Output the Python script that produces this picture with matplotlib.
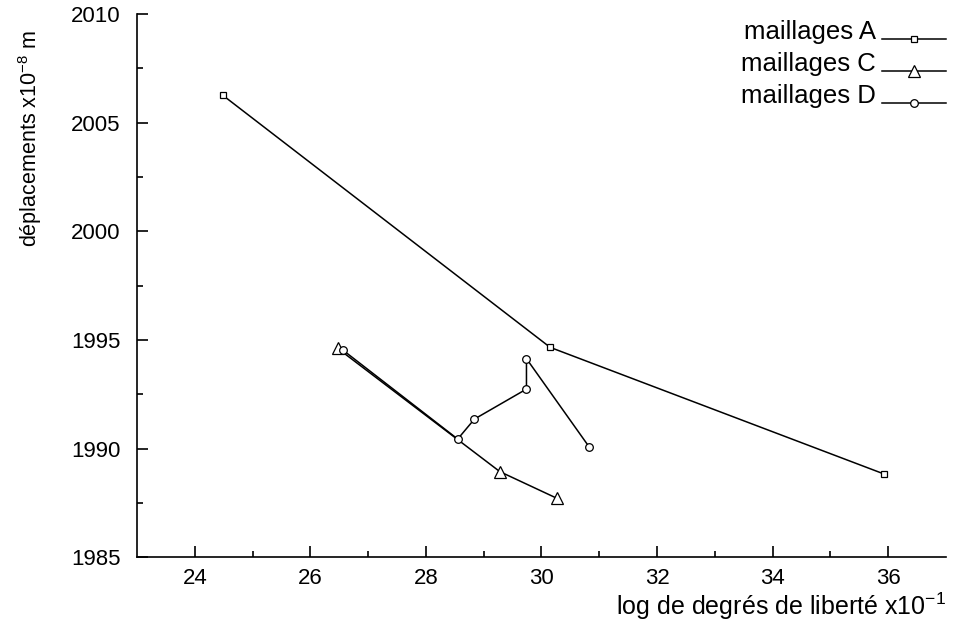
import numpy as np
import matplotlib.pyplot as plt
from matplotlib.lines import Line2D
from matplotlib.legend_handler import HandlerLine2D

plt.rcParams['font.family'] = ['Liberation Sans', 'DejaVu Sans']

# maillages A
xa = [24.48, 30.15, 35.93]
ya = [2006.27, 1994.66, 1988.83]
# maillages C
xc = [26.47, 29.28, 30.27]
yc = [1994.62, 1988.94, 1987.71]
# maillages D
xd = [26.56, 28.55, 28.84, 29.74, 29.74, 30.83]
yd = [1994.54, 1990.44, 1991.36, 1992.74, 1994.14, 1990.06]

xticks = [24, 26, 28, 30, 32, 34, 36]
yticks = [1985, 1990, 1995, 2000, 2005, 2010]


class BaselineLine(HandlerLine2D):
    # put the legend line on the text baseline, like the original
    def create_artists(self, legend, orig_handle, xdescent, ydescent, width, height, fontsize, trans):
        return super().create_artists(legend, orig_handle, xdescent, ydescent + height,
                                      width, height, fontsize, trans)


fig = plt.figure()
fig.set_size_inches(9.6, 6.23)
ax = fig.add_axes([0.1427, 0.1055, 0.8427, 0.8720])

ax.plot(xa, ya, color='black', linewidth=1.1, marker='s', markersize=4.5,
        markerfacecolor='white', markeredgecolor='black', markeredgewidth=0.9, label='maillages A')
ax.plot(xc, yc, color='black', linewidth=1.1, marker='^', markersize=8.5,
        markerfacecolor='white', markeredgecolor='black', markeredgewidth=0.9, label='maillages C')
ax.plot(xd, yd, color='black', linewidth=1.1, marker='o', markersize=5.5,
        markerfacecolor='white', markeredgecolor='black', markeredgewidth=0.9, label='maillages D')

ax.set_xlim(23, 37)
ax.set_ylim(1985, 2010)
ax.set_xticks(xticks)
ax.set_yticks(yticks)
ax.set_xticks(np.arange(25, 37, 2), minor=True)
ax.set_yticks(np.arange(1987.5, 2010, 5), minor=True)
ax.spines['top'].set_visible(False)
ax.spines['right'].set_visible(False)
ax.spines['left'].set_linewidth(1.2)
ax.spines['bottom'].set_linewidth(1.2)
ax.tick_params(which='major', direction='in', length=8, width=1.2, labelsize=16, pad=8)
ax.tick_params(which='minor', direction='in', length=4.5, width=1.2)
ax.tick_params(axis='y', which='major', pad=12)

ax.set_xlabel('log de degrés de liberté x10$^{\\mathregular{-1}}$', fontsize=18, loc='right', labelpad=1)
ax.set_ylabel('déplacements x10$^{\\mathregular{-8}}$ m', fontsize=15.5, loc='top')
ax.yaxis.set_label_coords(-0.115, 0.97)

ax.legend(loc='upper right', bbox_to_anchor=(1.0, 0.989), markerfirst=False, frameon=False,
          borderaxespad=0, borderpad=0, handlelength=2.5, handletextpad=0.23,
          labelspacing=0.31, fontsize=18.5, handler_map={Line2D: BaselineLine()})

plt.savefig('out.png', dpi=100)
plt.close()
